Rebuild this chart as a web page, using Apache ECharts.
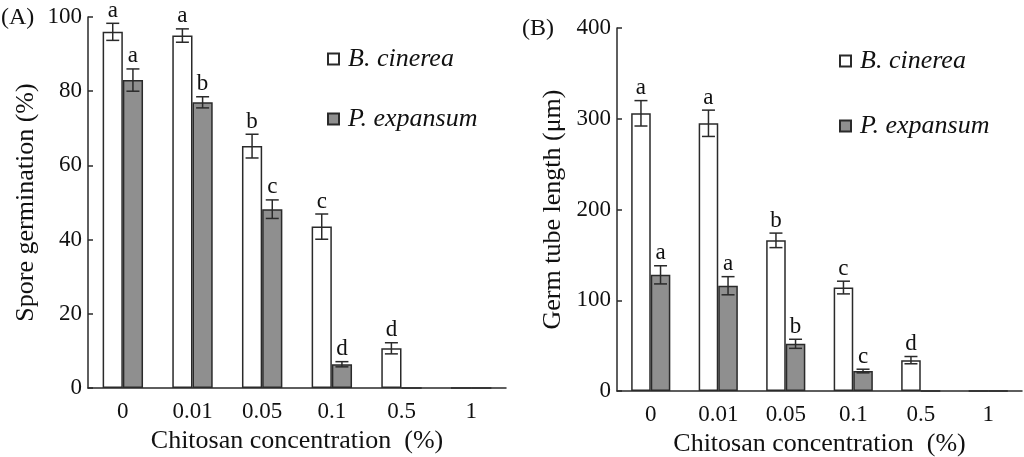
<!DOCTYPE html>
<html>
<head>
    <meta charset="utf-8" />
    <title>Chitosan</title>
    <script src="https://cdn.jsdelivr.net/npm/echarts@6/dist/echarts.min.js"></script>
    <style>
        html, body { margin: 0; padding: 0; background: #fff; }
    </style>
</head>
<body>
<div id="main" style="width: 1024px;height:457px;"></div>

<script type="text/javascript">
    // 横轴：壳聚糖浓度
    var categories = ['0', '0.01', '0.05', '0.1', '0.5', '1'];

    // (A) 孢子萌发率 %
    var sporeB = [96, 95, 65.2, 43.5, 10.7, 0];
    var sporeBErr = [2.3, 1.8, 3.2, 3.4, 1.5, 0];
    var sporeBLetters = ['a', 'a', 'b', 'c', 'd', ''];
    var sporeP = [83, 77, 48.2, 6.4, 0, 0];
    var sporePErr = [3, 1.5, 2.5, 0.7, 0, 0];
    var sporePLetters = ['a', 'b', 'c', 'd', '', ''];

    // (B) 芽管长度 μm
    var tubeB = [306, 295, 166, 114, 34, 0];
    var tubeBErr = [14, 14.5, 8, 7, 4, 0];
    var tubeBLetters = ['a', 'a', 'b', 'c', 'd', ''];
    var tubeP = [128, 116, 52, 22, 0, 0];
    var tubePErr = [10, 10, 5, 2, 0, 0];
    var tubePLetters = ['a', 'a', 'b', 'c', '', ''];

    var font = 'Liberation Serif';
    var ink = '#111';
    var line = '#2a2a2a';
    var grey = '#8f8f8f';
    var barPct = 0.29;

    // 误差线 + 字母标记
    function errSeries(idx, values, errs, letters, side) {
        return {
            type: 'custom',
            xAxisIndex: idx,
            yAxisIndex: idx,
            z: 5,
            data: values.map(function (v, i) { return [i, v]; }),
            encode: { x: 0, y: 1 },
            renderItem: function (params, api) {
                var i = api.value(0);
                var v = api.value(1);
                var e = errs[params.dataIndex];
                var bw = api.size([1, 0])[0] * barPct;
                var x = api.coord([i, v])[0] + side * bw / 2;
                var top = api.coord([i, v + e])[1];
                var bot = api.coord([i, v - e])[1];
                var cap = 6.5;
                var st = { stroke: line, lineWidth: 1.5 };
                var kids = [];
                if (e > 0) {
                    kids.push({ type: 'line', shape: { x1: x, y1: top, x2: x, y2: bot }, style: st });
                    kids.push({ type: 'line', shape: { x1: x - cap, y1: top, x2: x + cap, y2: top }, style: st });
                    kids.push({ type: 'line', shape: { x1: x - cap, y1: bot, x2: x + cap, y2: bot }, style: st });
                }
                var lt = letters[params.dataIndex];
                if (lt) {
                    kids.push({
                        type: 'text',
                        style: {
                            text: lt, x: x, y: top - 1,
                            align: 'center', verticalAlign: 'bottom',
                            fontSize: 23, fontFamily: font, fill: ink
                        }
                    });
                }
                return { type: 'group', children: kids };
            }
        };
    }

    function barSeries(idx, name, values, color) {
        return {
            name: name,
            type: 'bar',
            xAxisIndex: idx,
            yAxisIndex: idx,
            barWidth: (barPct * 100) + '%',
            barGap: '0%',
            data: values,
            itemStyle: { color: color, borderColor: line, borderWidth: 1.5 }
        };
    }

    function xAxisOf(idx, gap) {
        return {
            type: 'category',
            gridIndex: idx,
            data: categories,
            name: 'Chitosan concentration  (%)',
            nameLocation: 'middle',
            nameGap: gap,
            nameTextStyle: { fontSize: 26, fontFamily: font, color: ink },
            axisLine: { lineStyle: { color: line, width: 1.5 } },
            axisTick: { inside: true, length: 7, lineStyle: { color: line, width: 1.5 } },
            axisLabel: { fontSize: 23, fontFamily: font, color: ink, margin: 12 }
        };
    }

    function yAxisOf(idx, name, max, interval, gap) {
        return {
            type: 'value',
            gridIndex: idx,
            min: 0,
            max: max,
            interval: interval,
            name: name,
            nameLocation: 'middle',
            nameGap: gap,
            nameTextStyle: { fontSize: 26, fontFamily: font, color: ink },
            splitLine: { show: false },
            axisLine: { show: true, lineStyle: { color: line, width: 1.5 } },
            axisTick: { show: true, inside: true, length: 5, lineStyle: { color: line, width: 1.5 } },
            axisLabel: { fontSize: 23, fontFamily: font, color: ink, margin: 6 }
        };
    }

    function legendOf(left, top, gap) {
        return {
            left: left,
            top: top,
            orient: 'vertical',
            icon: 'rect',
            itemWidth: 11,
            itemHeight: 11,
            itemGap: gap,
            selectedMode: false,
            data: ['B. cinerea', 'P. expansum'],
            textStyle: { fontSize: 26, fontFamily: font, fontStyle: 'italic', color: ink, padding: [0, 0, 0, 4] }
        };
    }

    var myChart = echarts.init(document.getElementById('main'));

    var option = {
        animation: false,
        backgroundColor: '#fff',
        textStyle: { fontFamily: font },
        title: [
            { text: '(A)', left: -4, top: 1, textStyle: { fontSize: 24, fontWeight: 'normal', fontFamily: font, color: ink } },
            { text: '(B)', left: 517, top: 12, textStyle: { fontSize: 24, fontWeight: 'normal', fontFamily: font, color: ink } }
        ],
        legend: [legendOf(322, 41, 34), legendOf(834, 43, 39)],
        grid: [
            { left: 88, right: 518, top: 17, bottom: 69, outerBoundsMode: 'none' },
            { left: 617, right: 2, top: 28, bottom: 66, outerBoundsMode: 'none' }
        ],
        xAxis: [xAxisOf(0, 35), xAxisOf(1, 35)],
        yAxis: [
            yAxisOf(0, 'Spore germination (%)', 100, 20, 49),
            yAxisOf(1, 'Germ tube length (\u03bcm)', 400, 100, 51)
        ],
        series: [
            barSeries(0, 'B. cinerea', sporeB, '#fff'),
            barSeries(0, 'P. expansum', sporeP, grey),
            barSeries(1, 'B. cinerea', tubeB, '#fff'),
            barSeries(1, 'P. expansum', tubeP, grey),
            errSeries(0, sporeB, sporeBErr, sporeBLetters, -1),
            errSeries(0, sporeP, sporePErr, sporePLetters, 1),
            errSeries(1, tubeB, tubeBErr, tubeBLetters, -1),
            errSeries(1, tubeP, tubePErr, tubePLetters, 1)
        ]
    };

    myChart.setOption(option);
</script>
</body>
</html>
